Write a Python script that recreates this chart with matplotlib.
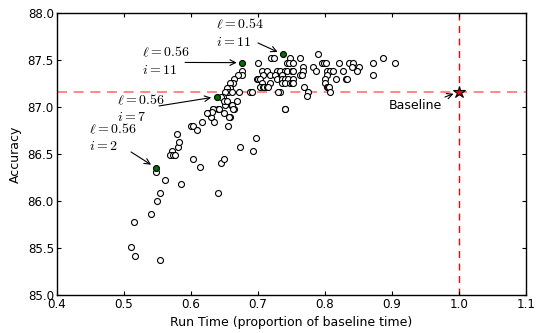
import matplotlib
matplotlib.use('Agg')
import matplotlib.pyplot as plt

# data
run_time = [
    0.5478, 0.5612, 0.5851, 0.5542, 0.5493, 0.5407, 0.5154, 0.5113, 0.5173, 0.5537,
    0.6412, 0.6736, 0.6970, 0.6925, 0.6039, 0.6143, 0.6457, 0.6501, 0.5716, 0.5691,
    0.5731, 0.5766, 0.5806, 0.5825, 0.5800, 0.6000, 0.6039, 0.6090, 0.6164, 0.6348,
    0.6299, 0.6254, 0.6328, 0.6403, 0.6497, 0.6582, 0.6561, 0.6512, 0.6601, 0.6651,
    0.6761, 0.6761, 0.6710, 0.6646, 0.6636, 0.6587, 0.6587, 0.6537, 0.6561, 0.6512,
    0.6612, 0.6487, 0.6448, 0.6725, 0.6885, 0.6910, 0.6497, 0.6537, 0.6696, 0.6612,
    0.6427, 0.6337, 0.6318, 0.6239, 0.6636, 0.6576, 0.7407, 0.7333,
    0.7194, 0.7248, 0.7482, 0.7631, 0.7904, 0.8875,
    0.7009, 0.7433, 0.7463, 0.7531, 0.7955, 0.7990, 0.8019, 0.8218, 0.8367, 0.8427,
    0.8716, 0.9049,
    0.7681, 0.7821, 0.8403, 0.8507,
    0.7060, 0.7134, 0.7284, 0.7333, 0.7407, 0.7433, 0.7507, 0.7531, 0.7672, 0.7870,
    0.8030, 0.8079, 0.8128, 0.8278, 0.8487,
    0.7075, 0.7184, 0.7258, 0.7358, 0.7631, 0.7657, 0.8039, 0.8725,
    0.6985, 0.7009, 0.7034, 0.7284, 0.7358, 0.7407, 0.7457, 0.7531, 0.8004, 0.8164,
    0.8318, 0.8333,
    0.7060, 0.7184, 0.7358, 0.7407, 0.7482, 0.7507, 0.7531, 0.8004,
    0.7034, 0.7075, 0.7094, 0.7134, 0.7158, 0.7696, 0.8039, 0.8054, 0.8069,
    0.7307, 0.7746, 0.8079, 0.7731, 0.7407,
]
accuracy = [
    86.310, 86.222, 86.176, 86.087, 85.999, 85.864, 85.776, 85.507, 85.418, 85.375,
    86.087, 86.576, 86.665, 86.530, 86.445, 86.357, 86.400, 86.445, 86.533, 86.488,
    86.488, 86.488, 86.576, 86.623, 86.711, 86.799, 86.799, 86.753, 86.842, 86.842,
    86.888, 86.931, 86.977, 86.977, 86.931, 86.888, 86.799, 87.019, 87.019, 86.977,
    87.380, 87.338, 87.338, 87.292, 87.250, 87.250, 87.203, 87.203, 87.160, 87.160,
    87.160, 87.107, 87.107, 87.160, 87.160, 87.160, 87.062, 87.062, 87.062, 87.019,
    86.973, 86.973, 86.942, 86.931, 86.973, 86.888, 86.973, 87.160,
    87.515, 87.515, 87.515, 87.515, 87.558, 87.515,
    87.469, 87.469, 87.469, 87.469, 87.469, 87.469, 87.469, 87.469, 87.469, 87.469,
    87.469, 87.469,
    87.426, 87.426, 87.426, 87.426,
    87.380, 87.380, 87.380, 87.380, 87.380, 87.380, 87.380, 87.380, 87.380, 87.380,
    87.380, 87.380, 87.380, 87.380, 87.380,
    87.338, 87.338, 87.338, 87.338, 87.338, 87.338, 87.338, 87.338,
    87.292, 87.292, 87.292, 87.292, 87.292, 87.292, 87.292, 87.292, 87.292, 87.292,
    87.292, 87.292,
    87.250, 87.250, 87.250, 87.250, 87.250, 87.250, 87.250, 87.250,
    87.207, 87.207, 87.207, 87.207, 87.207, 87.207, 87.207, 87.207, 87.207,
    87.160, 87.160, 87.160, 87.115, 86.980,
]

# highlighted configurations
sel_time = [0.7373, 0.6770, 0.6388, 0.5478]
sel_acc = [87.558, 87.469, 87.107, 86.353]
sel_labels = [r'$\ell=0.54$' + '\n' + r'$i=11$',
              r'$\ell=0.56$' + '\n' + r'$i=11$',
              r'$\ell=0.56$' + '\n' + r'$i=7$',
              r'$\ell=0.56$' + '\n' + r'$i=2$']

baseline_time = 1.0
baseline_acc = 87.16

plt.rcParams['mathtext.fontset'] = 'cm'
plt.rcParams['font.family'] = 'DejaVu Sans'

fig = plt.figure(figsize=(5.36, 3.33), dpi=100)
ax = fig.add_axes([0.1058, 0.114, 0.8750, 0.848])

ax.axhline(baseline_acc, color='red', ls='--', lw=1.2, alpha=0.55, dashes=(6, 4), zorder=1)
ax.axvline(baseline_time, color='red', ls='--', lw=1.0, dashes=(5, 4), zorder=1)

ax.plot(run_time, accuracy, 'o', ms=4.3, mfc='white', mec='black', mew=0.8, zorder=2)
ax.plot(sel_time, sel_acc, 'o', ms=4.3, mfc='#007000', mec='black', mew=0.8, zorder=3)
ax.plot([baseline_time], [baseline_acc], '*', ms=9, mfc='red', mec='black', mew=0.8, zorder=4)

# label text positions / arrow tails (layout only)
text_pos = [(0.6373, 87.784), (0.5273, 87.487), (0.4896, 86.982), (0.4482, 86.674)]
tail_pos = [(0.7004, 87.678), (0.5916, 87.471), (0.5527, 87.009), (0.5109, 86.520)]
arrow = dict(arrowstyle='->', color='black', lw=0.8, shrinkA=0, shrinkB=4)
for lab, tp, tl, x, y in zip(sel_labels, text_pos, tail_pos, sel_time, sel_acc):
    ax.text(tp[0], tp[1], lab, fontsize=10, ha='left', va='center', linespacing=1.25)
    ax.annotate('', xy=(x, y), xytext=tl, arrowprops=arrow)

ax.text(0.896, 87.009, 'Baseline', fontsize=9, ha='left', va='center')
ax.annotate('', xy=(baseline_time, baseline_acc), xytext=(0.9795, 87.104), arrowprops=arrow)

ax.set_xlim(0.4, 1.1)
ax.set_ylim(85.0, 88.0)
ax.set_xticks([0.4, 0.5, 0.6, 0.7, 0.8, 0.9, 1.0, 1.1])
ax.set_yticks([85.0, 85.5, 86.0, 86.5, 87.0, 87.5, 88.0])
ax.xaxis.set_major_formatter(matplotlib.ticker.FormatStrFormatter('%.1f'))
ax.yaxis.set_major_formatter(matplotlib.ticker.FormatStrFormatter('%.1f'))
ax.tick_params(direction='in', top=True, right=True, length=3, width=0.8, labelsize=8.6, pad=2)
for s in ax.spines.values():
    s.set_linewidth(1.0)

ax.set_xlabel('Run Time (proportion of baseline time)', fontsize=9)
ax.set_ylabel('Accuracy', fontsize=9)

fig.savefig('out.png', dpi=100, facecolor='white')
